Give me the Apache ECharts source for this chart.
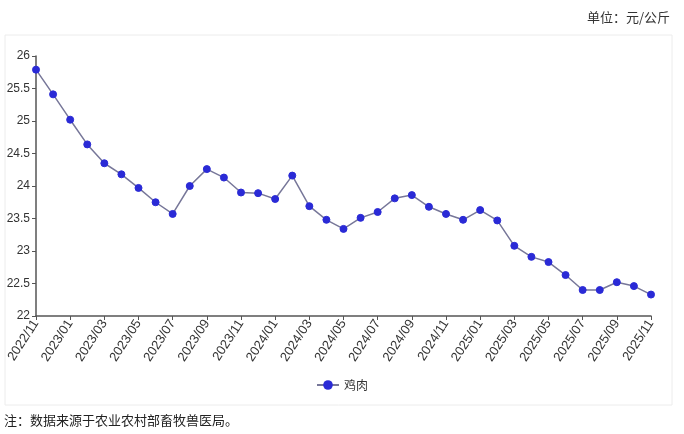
<!DOCTYPE html>
<html><head><meta charset="utf-8">
<style>html,body{margin:0;padding:0;background:#fff;}#c{width:684px;height:434px;}</style>
<script src="https://cdn.jsdelivr.net/npm/echarts@6/dist/echarts.min.js"></script>
</head><body><div id="c"></div>
<script>
const categories = ['2022/11','2022/12','2023/01','2023/02','2023/03','2023/04','2023/05','2023/06','2023/07','2023/08','2023/09','2023/10','2023/11','2023/12',
'2024/01','2024/02','2024/03','2024/04','2024/05','2024/06','2024/07','2024/08','2024/09','2024/10','2024/11','2024/12',
'2025/01','2025/02','2025/03','2025/04','2025/05','2025/06','2025/07','2025/08','2025/09','2025/10','2025/11'];
const chickenPrice = [25.79,25.41,25.02,24.64,24.35,24.18,23.97,23.75,23.57,24.00,24.26,24.13,23.90,23.89,
23.80,24.16,23.69,23.48,23.34,23.51,23.60,23.81,23.86,23.68,23.57,23.48,
23.63,23.47,23.08,22.91,22.83,22.63,22.40,22.40,22.52,22.46,22.33];
const seriesName = '鸡肉';
const unitText = '单位：元/公斤';
const noteText = '注：数据来源于农业农村部畜牧兽医局。';

const chart = echarts.init(document.getElementById('c'), null, {renderer:'canvas'});
const font = '"Liberation Sans", Arial, sans-serif';
chart.setOption({
  animation:false,
  backgroundColor:'#fff',
  graphic:[
    {type:'rect', shape:{x:5,y:35,width:667,height:370}, style:{fill:'none', stroke:'#ececec', lineWidth:1}, silent:true, z:-1},
    {type:'text', right:14, top:11, style:{text:unitText, fontSize:13, fill:'#333', fontFamily:'"Noto Sans CJK SC", sans-serif'}},
    {type:'text', left:4, top:414, style:{text:noteText, fontSize:13, fill:'#222', fontFamily:'"Noto Sans CJK SC", sans-serif'}}
  ],
  grid:{left:36, right:33, top:56, bottom:118, containLabel:false},
  legend:{
    data:[seriesName], bottom:38, left:'center', itemWidth:22, itemHeight:12, itemGap:4,
    textStyle:{fontSize:12, color:'#333', fontFamily:'"Noto Sans CJK SC", sans-serif'}
  },
  xAxis:{
    type:'category', data:categories, boundaryGap:false,
    axisLine:{lineStyle:{color:'#555', width:1.5}},
    axisTick:{interval:1, length:4, lineStyle:{color:'#555'}},
    axisLabel:{interval:1, rotate:57, fontSize:13, color:'#333', fontFamily:font, margin:5}
  },
  yAxis:{
    type:'value', min:22, max:26, interval:0.5,
    splitLine:{show:false},
    axisLine:{show:true, lineStyle:{color:'#555', width:1.5}},
    axisTick:{show:true, length:4, lineStyle:{color:'#555'}},
    axisLabel:{fontSize:12, color:'#333', fontFamily:font, margin:6}
  },
  series:[{
    name:seriesName, type:'line', data:chickenPrice,
    symbol:'circle', symbolSize:7, showSymbol:true,
    lineStyle:{color:'#777799', width:1.5},
    itemStyle:{color:'#2a2ad6', borderColor:'#2a2ad6'}
  }]
});
</script></body></html>
